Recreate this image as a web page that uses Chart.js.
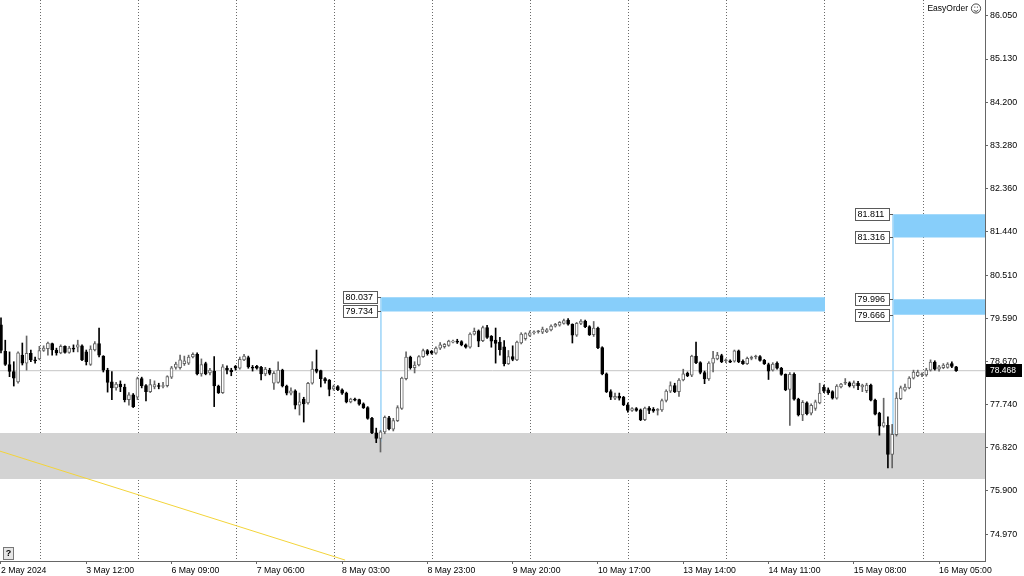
<!DOCTYPE html>
<html><head><meta charset="utf-8">
<script src="https://cdn.jsdelivr.net/npm/chart.js@4.4.1/dist/chart.umd.min.js"></script>
<style>html,body{margin:0;padding:0;background:#fff;overflow:hidden}#wrap{width:1024px;height:576px}canvas{display:block}</style>
</head><body><div id="wrap"><canvas id="c" width="1024" height="576"></canvas></div>
<script>
// ---- DATA (H1 candles) ----
const opens = [
79.45,78.88,78.60,78.45,78.23,78.80,78.63,78.84,78.70,78.72,
78.90,78.94,79.05,78.91,78.85,78.99,78.86,78.94,78.97,79.00,
78.87,78.60,78.91,79.05,78.78,78.48,78.23,78.10,78.18,78.12,
77.85,77.95,77.90,78.30,78.15,78.02,78.12,78.14,78.13,78.15,
78.33,78.54,78.53,78.62,78.63,78.76,78.82,78.40,78.62,78.42,
78.46,78.14,78.00,78.52,78.48,78.56,78.52,78.70,78.75,78.53,
78.56,78.54,78.40,78.48,78.20,78.22,78.48,78.14,77.99,78.04,
77.73,77.86,77.78,78.20,78.50,78.47,78.30,78.27,78.08,78.13,
78.06,77.99,77.80,77.85,77.85,77.76,77.68,77.45,77.14,77.02,
77.16,77.46,77.22,77.40,77.66,78.30,78.76,78.53,78.59,78.77,
78.90,78.88,78.84,78.95,78.98,79.01,79.08,79.09,79.09,79.02,
78.97,79.25,79.32,79.11,79.39,79.20,79.12,79.08,78.98,78.62,
78.77,78.70,79.06,79.15,79.22,79.28,79.30,79.29,79.30,79.34,
79.42,79.44,79.48,79.55,79.46,79.23,79.48,79.53,79.41,79.24,
79.38,78.96,78.40,78.02,77.88,77.92,77.90,77.74,77.62,77.66,
77.63,77.42,77.67,77.64,77.62,77.63,77.83,78.03,78.15,78.02,
78.27,78.41,78.37,78.78,78.64,78.43,78.29,78.63,78.72,78.79,
78.68,78.68,78.67,78.89,78.67,78.62,78.73,78.76,78.77,78.69,
78.60,78.48,78.63,78.52,78.39,78.07,78.39,77.86,77.52,77.78,
77.56,77.66,77.78,78.11,78.06,78.02,77.88,78.12,78.20,78.21,
78.14,78.20,78.12,78.04,78.16,77.84,77.56,77.28,77.30,76.68,
77.10,77.87,78.05,78.10,78.31,78.36,78.38,78.38,78.48,78.65,
78.50,78.53,78.54,78.62,78.55];
const highs = [
79.60,79.12,78.87,78.66,78.87,79.06,79.21,78.91,78.76,78.99,
79.00,79.08,79.06,78.95,79.02,79.00,78.99,79.02,79.12,79.02,
78.91,79.00,79.09,79.38,78.79,78.52,78.45,78.22,78.25,78.18,
78.00,77.98,78.33,78.33,78.17,78.28,78.25,78.20,78.22,78.36,
78.56,78.65,78.80,78.78,78.80,78.85,78.85,78.72,78.65,78.52,
78.77,78.16,78.60,78.57,78.52,78.58,78.76,78.82,78.78,78.58,
78.58,78.56,78.54,78.52,78.45,78.66,78.50,78.16,78.10,78.06,
77.99,77.90,78.22,78.66,78.91,78.48,78.32,78.28,78.16,78.15,
78.08,78.01,77.88,77.88,77.86,77.78,77.70,77.47,77.24,77.19,
77.50,77.49,77.45,77.72,78.33,78.87,78.78,78.66,78.79,78.93,
78.92,78.90,78.98,79.07,79.05,79.12,79.12,79.14,79.11,79.04,
79.28,79.38,79.34,79.42,79.44,79.22,79.38,79.18,79.11,78.90,
79.00,79.10,79.28,79.28,79.32,79.32,79.33,79.40,79.37,79.45,
79.48,79.52,79.57,79.58,79.47,79.50,79.56,79.55,79.43,79.52,
79.40,78.98,78.42,78.06,77.99,77.99,77.92,77.78,77.68,77.68,
77.65,77.69,77.70,77.68,77.66,77.86,78.06,78.23,78.20,78.30,
78.50,78.44,78.80,79.08,78.66,78.46,78.66,78.88,78.86,78.82,
78.72,78.70,78.91,78.91,78.70,78.76,78.78,78.80,78.79,78.71,
78.63,78.64,78.66,78.54,78.40,78.43,78.42,77.88,77.83,77.80,
77.76,77.84,78.20,78.16,78.10,78.04,78.17,78.20,78.30,78.23,
78.25,78.24,78.18,78.20,78.18,77.86,77.58,77.88,77.48,77.32,
78.00,78.14,78.18,78.34,78.48,78.48,78.42,78.52,78.70,78.68,
78.58,78.62,78.64,78.66,78.56];
const lows = [
78.85,78.58,78.34,78.14,78.20,78.59,78.48,78.66,78.63,78.70,
78.88,78.80,78.80,78.80,78.83,78.84,78.84,78.87,78.87,78.68,
78.59,78.58,78.89,78.76,78.44,78.01,77.85,78.05,78.02,77.80,
77.73,77.68,77.85,78.10,77.82,78.00,78.08,78.08,78.10,78.12,
78.30,78.50,78.50,78.58,78.60,78.74,78.38,78.35,78.38,78.38,
77.70,77.98,77.98,78.40,78.36,78.48,78.50,78.68,78.52,78.46,
78.50,78.27,78.36,78.38,78.07,78.20,78.12,77.95,77.95,77.65,
77.52,77.37,77.75,78.18,78.42,78.12,78.20,77.93,78.05,78.04,
77.96,77.78,77.78,77.82,77.73,77.66,77.43,77.12,76.93,76.73,
77.12,77.20,77.18,77.38,77.64,78.27,78.50,78.42,78.57,78.75,
78.80,78.82,78.82,78.92,78.95,78.99,79.06,79.05,79.00,78.95,
78.95,79.23,78.98,79.09,79.16,78.97,78.63,78.80,78.57,78.60,
78.68,78.68,79.04,79.12,79.20,79.25,79.27,79.26,79.28,79.32,
79.40,79.42,79.46,79.44,79.06,79.20,79.45,79.39,79.22,79.20,
78.94,78.38,78.00,77.85,77.85,77.84,77.72,77.58,77.60,77.60,
77.40,77.40,77.55,77.58,77.52,77.60,77.80,78.00,78.00,77.92,
78.25,78.34,78.34,78.62,78.40,78.19,78.26,78.44,78.70,78.64,
78.64,78.64,78.65,78.64,78.60,78.60,78.70,78.72,78.67,78.60,
78.28,78.46,78.50,78.37,78.04,77.30,77.84,77.50,77.40,77.52,
77.52,77.62,77.76,78.00,77.96,77.86,77.86,78.10,78.17,78.12,
78.10,78.06,78.02,78.00,77.82,77.52,77.09,77.26,76.39,76.39,
77.07,77.85,78.03,78.08,78.29,78.34,78.34,78.35,78.46,78.48,
78.46,78.51,78.52,78.53,78.45];
const closes = [
78.90,78.60,78.45,78.31,78.85,78.63,78.84,78.70,78.68,78.90,
78.95,79.06,78.91,78.85,78.99,78.86,78.95,78.93,79.02,78.70,
78.66,78.93,79.05,78.80,78.48,78.22,78.10,78.18,78.12,77.85,
77.95,77.70,78.30,78.15,78.02,78.17,78.17,78.13,78.15,78.34,
78.53,78.61,78.70,78.68,78.76,78.82,78.40,78.60,78.40,78.48,
78.14,78.00,78.55,78.48,78.44,78.52,78.71,78.78,78.55,78.52,
78.52,78.40,78.50,78.41,78.41,78.48,78.14,77.99,78.04,77.73,
77.80,77.76,78.20,78.50,78.45,78.30,78.25,78.07,78.13,78.06,
77.99,77.80,77.86,77.84,77.75,77.68,77.45,77.14,77.02,77.16,
77.47,77.23,77.40,77.68,78.31,78.76,78.53,78.59,78.77,78.90,
78.83,78.84,78.95,79.02,79.03,79.10,79.09,79.08,79.02,78.97,
79.25,79.31,79.10,79.39,79.18,79.10,79.05,78.92,78.62,78.77,
78.71,79.08,79.25,79.26,79.28,79.29,79.30,79.36,79.34,79.42,
79.46,79.50,79.54,79.46,79.23,79.48,79.53,79.41,79.24,79.38,
78.96,78.40,78.02,77.90,77.92,77.88,77.74,77.62,77.66,77.62,
77.42,77.67,77.62,77.61,77.62,77.83,78.03,78.15,78.02,78.27,
78.40,78.36,78.78,78.64,78.43,78.29,78.63,78.74,78.80,78.66,
78.68,78.65,78.89,78.66,78.62,78.73,78.73,78.76,78.69,78.62,
78.46,78.61,78.52,78.39,78.06,78.39,77.86,77.52,77.79,77.55,
77.73,77.80,77.99,78.03,78.00,77.88,78.14,78.18,78.20,78.14,
78.21,78.15,78.16,78.16,77.84,77.54,77.28,77.36,76.68,77.11,
77.88,78.10,78.12,78.31,78.44,78.44,78.38,78.48,78.65,78.50,
78.55,78.59,78.61,78.56,78.468];

const timeLabels = ["2 May 2024","3 May 12:00","6 May 09:00","7 May 06:00","8 May 03:00","8 May 23:00",
  "9 May 20:00","10 May 17:00","13 May 14:00","14 May 11:00","15 May 08:00","16 May 05:00"];
const timeLabelIdx = [0,20,40,60,80,100,120,140,160,180,200,220];
const gridIdx = [9.24,32.24,55.24,78.24,101.24,124.24,147.24,170.24,193.24,216.24];
const priceTicks = [86.050,85.130,84.200,83.280,82.360,81.440,80.510,79.590,78.670,77.740,76.820,75.900,74.970];

const lastPrice = 78.468;
const grayZone = [77.136, 76.153];
const blueZoneA = [80.037, 79.734];
const blueZoneAX = [89.1, 193.25];
const blueZoneB = [81.811, 81.316];
const blueZoneC = [79.996, 79.666];
const blueZoneBX = [209.2, 231];
const orderLevels = [80.037, 79.734, 81.811, 81.316, 79.996, 79.666];
const orderLevelX = [89.1, 89.1, 209.2, 209.2, 209.2, 209.2];
const vLineA = [89.1, 80.037, 76.95];
const vLineB = [209.2, 81.811, 77.0];
const trendX = [-0.3, 80.7];
const trendY = [76.75, 74.42];

const X_MIN = -0.2345, X_MAX = 230.77, Y_MIN = 74.40, Y_MAX = 86.392;
const FONT = '"Liberation Sans", Arial, sans-serif';
const UP = '#666666', DOWN = '#000000';

const isUp = closes.map((c,i)=> c >= opens[i]);
const bodies = opens.map((o,i)=>({x:i, y:[o, closes[i]]}));
const wicks = lows.map((l,i)=>({x:i, y:[l, highs[i]]}));

function hline(v, x0, x1){ return [{x:x0,y:v},{x:x1,y:v}]; }
function lineDs(data, color, order, extra){
  return Object.assign({type:'line', data, borderColor:color, borderWidth:1, pointRadius:0, tension:0, fill:false, order}, extra||{});
}

const datasets = [
  {type:'bar', data:bodies, grouped:false, barThickness:3, minBarLength:1, borderSkipped:false,
   backgroundColor: opens.map((o,i)=> o===closes[i] ? UP : (isUp[i] ? '#ffffff' : DOWN)),
   borderColor: isUp.map(u=> u ? UP : DOWN), borderWidth:1, order:1},
  {type:'bar', data:wicks, grouped:false, barThickness:1, borderWidth:0,
   backgroundColor: isUp.map(u=> u ? UP : DOWN), order:2},
  lineDs(hline(lastPrice, X_MIN, X_MAX), '#c6c6c6', 3),
  lineDs([{x:trendX[0],y:trendY[0]},{x:trendX[1],y:trendY[1]}], '#f3d43a', 3),
  lineDs([{x:vLineA[0],y:vLineA[1]},{x:vLineA[0],y:vLineA[2]}], '#a8d9f8', 4),
  lineDs([{x:vLineB[0],y:vLineB[1]},{x:vLineB[0],y:vLineB[2]}], '#a8d9f8', 4),
  lineDs(hline(grayZone[0], X_MIN, X_MAX), 'rgba(0,0,0,0)', 6, {borderWidth:0, fill:'+1', backgroundColor:'#d3d3d3'}),
  lineDs(hline(grayZone[1], X_MIN, X_MAX), 'rgba(0,0,0,0)', 6, {borderWidth:0}),
  lineDs(hline(blueZoneA[0], blueZoneAX[0], blueZoneAX[1]), 'rgba(0,0,0,0)', 5, {borderWidth:0, fill:'+1', backgroundColor:'#87cefa'}),
  lineDs(hline(blueZoneA[1], blueZoneAX[0], blueZoneAX[1]), 'rgba(0,0,0,0)', 5, {borderWidth:0}),
  lineDs(hline(blueZoneB[0], blueZoneBX[0], blueZoneBX[1]), 'rgba(0,0,0,0)', 5, {borderWidth:0, fill:'+1', backgroundColor:'#87cefa'}),
  lineDs(hline(blueZoneB[1], blueZoneBX[0], blueZoneBX[1]), 'rgba(0,0,0,0)', 5, {borderWidth:0}),
  lineDs(hline(blueZoneC[0], blueZoneBX[0], blueZoneBX[1]), 'rgba(0,0,0,0)', 5, {borderWidth:0, fill:'+1', backgroundColor:'#87cefa'}),
  lineDs(hline(blueZoneC[1], blueZoneBX[0], blueZoneBX[1]), 'rgba(0,0,0,0)', 5, {borderWidth:0})
];

const annot = {
  id:'annot',
  afterDatasetsDraw(chart){
    const {ctx, scales:{x, y}} = chart;
    ctx.save();
    ctx.font = '9px ' + FONT;
    ctx.lineWidth = 1;
    orderLevels.forEach((v, k)=>{
      const px = Math.round(x.getPixelForValue(orderLevelX[k]));
      const py = Math.round(y.getPixelForValue(v));
      const w = 34, h = 12;
      const bx = px - w - 3.5, by = py - 6 + 0.5;
      ctx.fillStyle = '#ffffff'; ctx.fillRect(bx, by, w, h);
      ctx.strokeStyle = '#5a5a5a'; ctx.strokeRect(bx, by, w, h);
      ctx.beginPath(); ctx.moveTo(bx + w, py + 0.5); ctx.lineTo(px, py + 0.5); ctx.stroke();
      ctx.fillStyle = '#000'; ctx.textAlign = 'left'; ctx.textBaseline = 'middle';
      ctx.fillText(v.toFixed(3), bx + 2, py + 1);
    });
    ctx.restore();
  },
  afterDraw(chart){
    const {ctx, scales:{y}, chartArea} = chart;
    ctx.save();
    // current price tag
    const py = y.getPixelForValue(lastPrice);
    ctx.fillStyle = '#000'; ctx.fillRect(chartArea.right + 1, Math.round(py) - 7, 36, 13);
    ctx.fillStyle = '#fff'; ctx.font = '8.5px ' + FONT; ctx.textAlign = 'left'; ctx.textBaseline = 'middle';
    ctx.fillText(lastPrice.toFixed(3), chartArea.right + 5, Math.round(py));
    // EasyOrder label
    ctx.fillStyle = '#000'; ctx.textAlign = 'right';
    ctx.fillText('EasyOrder', 968, 9);
    ctx.strokeStyle = '#333'; ctx.lineWidth = 0.9;
    ctx.beginPath(); ctx.arc(976, 8.5, 4.6, 0, Math.PI*2); ctx.stroke();
    ctx.beginPath(); ctx.arc(976, 8.8, 2.5, 0.15*Math.PI, 0.85*Math.PI); ctx.stroke();
    ctx.fillStyle = '#333';
    ctx.fillRect(974.3, 6.6, 1, 1); ctx.fillRect(976.9, 6.6, 1, 1);
    // "?" box
    ctx.fillStyle = '#e6e6e6'; ctx.fillRect(3.5, 547.5, 10, 12);
    ctx.strokeStyle = '#777'; ctx.lineWidth = 1; ctx.strokeRect(3.5, 547.5, 10, 12);
    ctx.fillStyle = '#000'; ctx.textAlign = 'center'; ctx.font = 'bold 9px ' + FONT;
    ctx.fillText('?', 8.5, 554);
    ctx.restore();
  }
};

new Chart(document.getElementById('c'), {
  type:'bar',
  data:{datasets},
  plugins:[annot],
  options:{
    responsive:false, animation:false, devicePixelRatio:1,
    layout:{padding:0},
    plugins:{legend:{display:false}, tooltip:{enabled:false}},
    scales:{
      x:{type:'linear', position:'bottom', min:X_MIN, max:X_MAX, offset:false,
         afterBuildTicks:(a)=>{ a.ticks = timeLabelIdx.map(v=>({value:v})); },
         afterFit:(s)=>{ s.height = 15; s.paddingLeft = 0; s.paddingRight = 0; },
         ticks:{autoSkip:false, maxRotation:0, minRotation:0, align:'start', padding:1, color:'#000',
                font:{family:FONT, size:8.7}, callback:(v, i)=> timeLabels[i]},
         grid:{offset:false, drawOnChartArea:false, drawTicks:true, tickLength:3, color:'#666'},
         border:{display:true, color:'#666'}},
      xg:{type:'linear', position:'top', min:X_MIN, max:X_MAX, offset:false,
         afterBuildTicks:(a)=>{ a.ticks = gridIdx.map(v=>({value:v})); },
         afterFit:(s)=>{ s.height = 0; s.paddingLeft = 0; s.paddingRight = 0; },
         ticks:{display:false, autoSkip:false},
         grid:{offset:false, drawTicks:false, color:'#6a6a6a', lineWidth:1},
         border:{display:false, dash:[1,2]}},
      y:{type:'linear', position:'right', min:Y_MIN, max:Y_MAX, beginAtZero:false,
         afterBuildTicks:(a)=>{ a.ticks = priceTicks.map(v=>({value:v})); },
         afterFit:(s)=>{ s.width = 39; s.paddingTop = 0; s.paddingBottom = 0; },
         ticks:{autoSkip:false, padding:2, color:'#000', font:{family:FONT, size:8.9},
                callback:(v)=> Number(v).toFixed(3)},
         grid:{drawOnChartArea:false, drawTicks:true, tickLength:3, color:'#666'},
         border:{display:true, color:'#666'}}
    }
  }
});
</script>
</body></html>
